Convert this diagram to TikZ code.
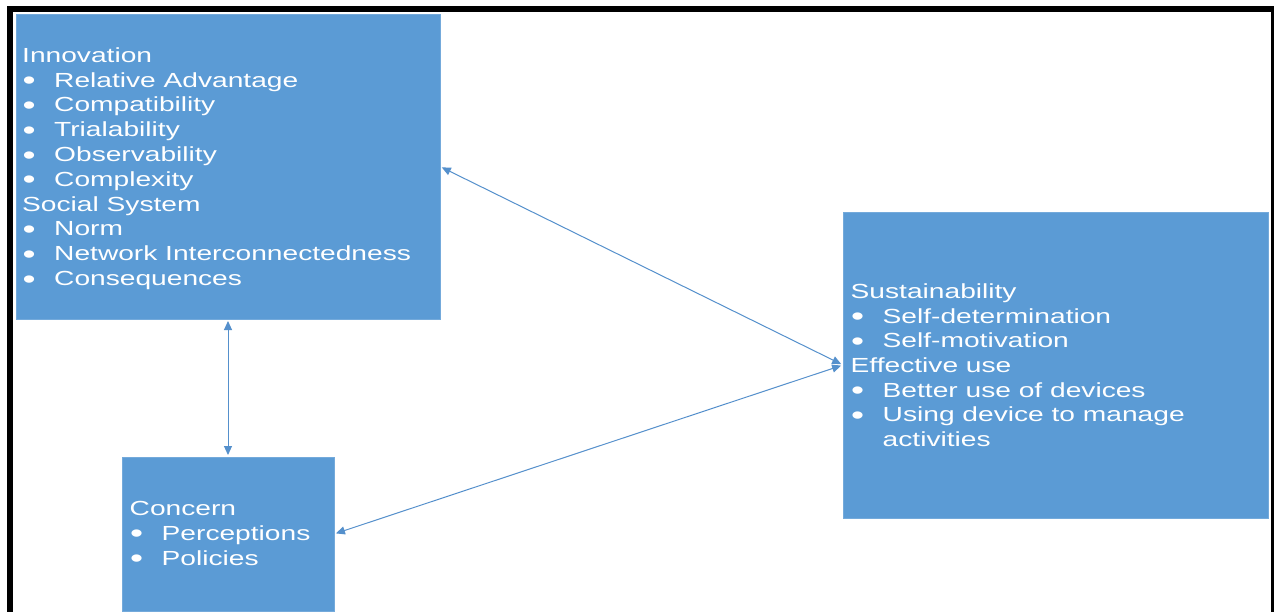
\documentclass[tikz,border=0pt]{standalone}
\usepackage{fontspec}
\setmainfont[FakeStretch=1.38]{Liberation Sans}
\usetikzlibrary{arrows.meta}
\definecolor{boxblue}{HTML}{5B9BD5}
\definecolor{linkblue}{HTML}{5590CC}
\newcommand{\bul}{\makebox[32pt][l]{\hspace{0.5pt}\raisebox{-2.6pt}{\fontsize{27}{0}\selectfont •}}}
\begin{document}
\begin{tikzpicture}[x=1pt,y=-1pt,
  box/.style={fill=boxblue, draw=boxblue!85!white, line width=0.8pt, inner sep=0pt, outer sep=0pt, anchor=north west},
  txt/.style={text=white, font=\fontsize{20.4}{24.8}\selectfont, inner sep=0pt, anchor=base west},
  link/.style={draw=linkblue, line width=1pt, shorten <=2pt, shorten >=2pt,
    {Triangle[length=9pt,width=8pt]}-{Triangle[length=9pt,width=8pt]}}]
\clip (0,0) rectangle (1274,611);
\fill[white] (0,0) rectangle (1274,611);
\draw[line width=6pt] (10,630) -- (10,9) -- (1274,9) -- (1274,630);

\node[box, minimum width=424pt, minimum height=305pt] (inno) at (16,14) {};
\node[box, minimum width=425pt, minimum height=306pt] (sust) at (843,212) {};
\node[box, minimum width=212pt, minimum height=154pt] (conc) at (122,457) {};

\foreach \t [count=\i from 0] in {Innovation, \bul Relative Advantage, \bul Compatibility, \bul Trialability, \bul Observability, \bul Complexity, Social System, \bul Norm, \bul Network Interconnectedness, \bul Consequences}
  \node[txt] (inno-l\i) at (22,62.3+24.8*\i) {\t};

\foreach \t [count=\i from 0] in {Sustainability, \bul Self-determination, \bul Self-motivation, Effective use, \bul Better use of devices, \bul Using device to manage, \hspace{32pt}activities}
  \node[txt] (sust-l\i) at (850.5,298.3+24.7*\i) {\t};

\foreach \t [count=\i from 0] in {Concern, \bul Perceptions, \bul Policies}
  \node[txt] (conc-l\i) at (129.5,515+25*\i) {\t};

\draw[link] (inno.east) -- (sust.west);
\draw[link] (conc.east) -- (sust.west);
\draw[link] (inno.south) -- (conc.north);
\end{tikzpicture}
\end{document}
